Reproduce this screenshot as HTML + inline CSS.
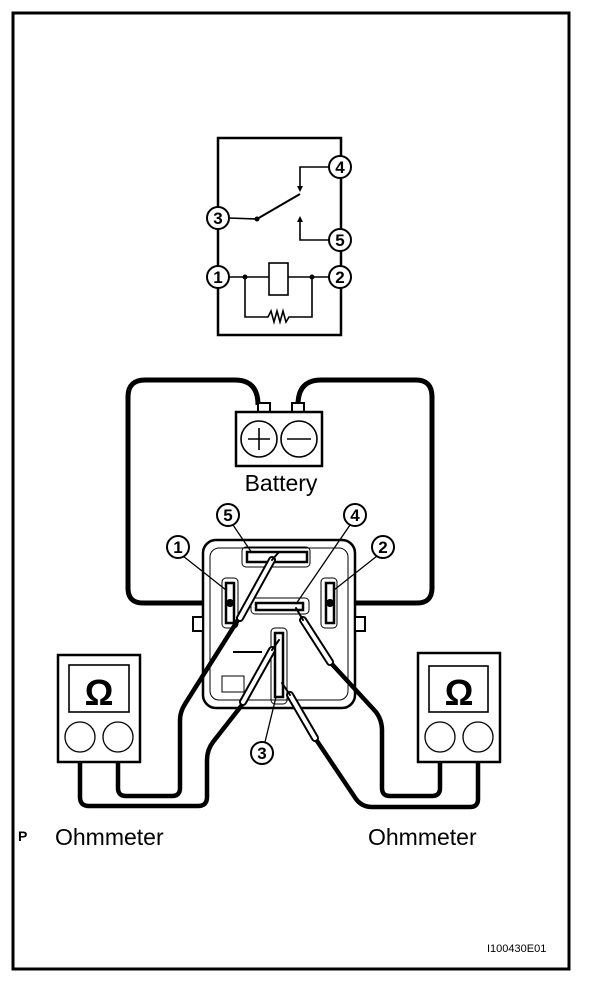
<!DOCTYPE html>
<html><head><meta charset="utf-8"><style>
html,body{margin:0;padding:0;background:#fff}
svg{display:block}
text{font-family:"Liberation Sans",Arial,sans-serif;fill:#000}
</style></head><body>
<svg width="608" height="986" viewBox="0 0 608 986" xmlns="http://www.w3.org/2000/svg">
<rect x="13" y="13" width="556" height="956" fill="none" stroke="#000" stroke-width="3"/>

<!-- schematic -->
<g stroke="#000" fill="none" stroke-width="2.5">
<rect x="218" y="138" width="123" height="197"/>
</g>
<g stroke="#000" fill="none" stroke-width="1.6">
<line x1="228" y1="218" x2="257" y2="219"/>
<line x1="257" y1="219" x2="300" y2="194" stroke-width="2"/>
<polyline points="330,167 300,167 300,188"/>
<polyline points="330,240 300,240 300,218"/>
<line x1="228" y1="277" x2="269" y2="277"/>
<line x1="288" y1="277" x2="330" y2="277"/>
<rect x="269" y="263" width="19" height="32"/>
<polyline points="245,277 245,317 268,317 271,311 274,322 277,311 280,322 283,311 286,322 289,317 312,317 312,277"/>
</g>
<polygon points="297,186 303,186 300,192" fill="#000"/>
<polygon points="297,222 303,222 300,216" fill="#000"/>
<circle cx="257" cy="219" r="2.5" fill="#000"/>
<circle cx="245" cy="277" r="2.5" fill="#000"/>
<circle cx="312" cy="277" r="2.5" fill="#000"/>
<g fill="#fff" stroke="#000" stroke-width="2">
<circle cx="218" cy="218" r="11"/><circle cx="218" cy="277" r="11"/>
<circle cx="340" cy="167" r="11"/><circle cx="340" cy="240" r="11"/><circle cx="340" cy="277" r="11"/>
</g>
<g font-size="17" font-weight="bold" text-anchor="middle">
<text x="218" y="224">3</text><text x="218" y="283">1</text>
<text x="340" y="173">4</text><text x="340" y="246">5</text><text x="340" y="283">2</text>
</g>

<!-- battery cables -->
<g stroke="#000" fill="none" stroke-width="5" stroke-linejoin="round">
<path d="M258,405 Q258,380 235,380 L145,380 Q128,380 128,397 L128,588 Q128,603 143,603 L230,603"/>
<path d="M298,405 Q298,380 321,380 L416,380 Q432,380 432,397 L432,588 Q432,603 417,603 L330,603"/>
</g>
<!-- battery -->
<rect x="258" y="403" width="12" height="10" fill="#fff" stroke="#000" stroke-width="2"/>
<rect x="292" y="403" width="12" height="10" fill="#fff" stroke="#000" stroke-width="2"/>
<rect x="236" y="412" width="86" height="54" fill="#fff" stroke="#000" stroke-width="2.5"/>
<circle cx="259" cy="439" r="18" fill="none" stroke="#000" stroke-width="1.6"/>
<circle cx="299" cy="439" r="18" fill="none" stroke="#000" stroke-width="1.6"/>
<g stroke="#000" stroke-width="1.6"><line x1="248" y1="439" x2="270" y2="439"/><line x1="259" y1="428" x2="259" y2="450"/><line x1="287" y1="439" x2="311" y2="439"/></g>
<text x="281" y="491" font-size="23" text-anchor="middle">Battery</text>

<!-- relay -->
<rect x="203" y="540" width="152" height="168" rx="13" fill="#fff" stroke="#000" stroke-width="2.5"/>
<rect x="210" y="548" width="138" height="152" rx="9" fill="none" stroke="#000" stroke-width="1"/>
<rect x="193" y="617" width="10" height="14" fill="#fff" stroke="#000" stroke-width="2"/>
<rect x="355" y="617" width="10" height="14" fill="#fff" stroke="#000" stroke-width="2"/>
<g fill="none" stroke="#000" stroke-width="1">
<rect x="242" y="547" width="68" height="20" rx="4"/>
<rect x="222" y="578" width="16" height="50" rx="4"/>
<rect x="321" y="578" width="16" height="50" rx="4"/>
<rect x="251" y="598" width="58" height="16" rx="4"/>
<rect x="271" y="628" width="16" height="76" rx="4"/>
<rect x="222" y="676" width="22" height="16"/>
<line x1="233" y1="652" x2="262" y2="652" stroke-width="2"/>
</g>
<g fill="#fff" stroke="#000" stroke-width="2.5">
<rect x="247" y="552" width="60" height="10"/>
<rect x="226" y="583" width="8" height="40"/>
<rect x="326" y="583" width="8" height="40"/>
<rect x="256" y="603" width="47" height="7"/>
<rect x="275" y="633" width="8" height="64"/>
</g>
<circle cx="230" cy="603" r="4" fill="#000"/><circle cx="330" cy="603" r="4" fill="#000"/>

<!-- leaders -->
<g stroke="#000" stroke-width="1.3" fill="none">
<line x1="233" y1="525" x2="252" y2="553"/>
<line x1="350" y1="525" x2="296" y2="604"/>
<line x1="183" y1="556" x2="226" y2="590"/>
<line x1="377" y1="556" x2="334" y2="590"/>
<line x1="265" y1="742" x2="276" y2="697"/>
</g>
<g fill="#fff" stroke="#000" stroke-width="2">
<circle cx="228" cy="515" r="11"/><circle cx="355" cy="515" r="11"/>
<circle cx="178" cy="547" r="11"/><circle cx="383" cy="547" r="11"/>
<circle cx="262" cy="753" r="11"/>
</g>
<g font-size="17" font-weight="bold" text-anchor="middle">
<text x="228" y="521">5</text><text x="355" y="521">4</text>
<text x="178" y="553">1</text><text x="383" y="553">2</text><text x="262" y="759">3</text>
</g>

<!-- cables to meters -->
<g stroke="#000" fill="none" stroke-width="4.5" stroke-linejoin="round">
<path d="M80,762 L80,797 Q80,806 89,806 L198,806 Q207,806 207,797 L207,760 Q207,750 213,742 L242,705"/>
<path d="M118,762 L118,788 Q118,796 126,796 L172,796 Q180,796 180,788 L180,720 Q180,712 185,704 L238,620"/>
<path d="M440,762 L440,788 Q440,796 432,796 L390,796 Q382,796 382,788 L382,730 Q382,720 376,712 L330,662"/>
<path d="M478,762 L478,799 Q478,807 470,807 L372,807 Q362,807 356,799 L315,738"/>
</g>
<!-- probes -->
<g stroke-linecap="round">
<line x1="240" y1="618" x2="272" y2="560" stroke="#000" stroke-width="8"/>
<line x1="240" y1="618" x2="272" y2="560" stroke="#fff" stroke-width="4"/>
<line x1="272" y1="560" x2="279" y2="552" stroke="#000" stroke-width="2"/>
<line x1="243" y1="702" x2="272" y2="650" stroke="#000" stroke-width="8"/>
<line x1="243" y1="702" x2="272" y2="650" stroke="#fff" stroke-width="4"/>
<line x1="272" y1="650" x2="279" y2="640" stroke="#000" stroke-width="2"/>
<line x1="330" y1="662" x2="303" y2="620" stroke="#000" stroke-width="8"/>
<line x1="330" y1="662" x2="303" y2="620" stroke="#fff" stroke-width="4"/>
<line x1="303" y1="620" x2="296" y2="608" stroke="#000" stroke-width="2"/>
<line x1="315" y1="738" x2="290" y2="695" stroke="#000" stroke-width="8"/>
<line x1="315" y1="738" x2="290" y2="695" stroke="#fff" stroke-width="4"/>
<line x1="290" y1="695" x2="282" y2="683" stroke="#000" stroke-width="2"/>
</g>

<!-- meters -->
<g>
<rect x="58" y="655" width="82" height="107" fill="#fff" stroke="#000" stroke-width="2.5"/>
<rect x="69" y="665" width="60" height="47" fill="#fff" stroke="#000" stroke-width="1.6"/>
<circle cx="80" cy="737" r="15" fill="#fff" stroke="#000" stroke-width="1.3"/>
<circle cx="118" cy="737" r="15" fill="#fff" stroke="#000" stroke-width="1.3"/>
<text x="99" y="705" font-size="36" font-weight="bold" text-anchor="middle">Ω</text>
<rect x="418" y="653" width="82" height="109" fill="#fff" stroke="#000" stroke-width="2.5"/>
<rect x="429" y="666" width="59" height="46" fill="#fff" stroke="#000" stroke-width="1.6"/>
<circle cx="440" cy="737" r="15" fill="#fff" stroke="#000" stroke-width="1.3"/>
<circle cx="478" cy="737" r="15" fill="#fff" stroke="#000" stroke-width="1.3"/>
<text x="459" y="705" font-size="36" font-weight="bold" text-anchor="middle">Ω</text>
</g>

<text x="18" y="841" font-size="14" font-weight="bold">P</text>
<text x="55" y="845" font-size="23">Ohmmeter</text>
<text x="368" y="845" font-size="23">Ohmmeter</text>
<text x="487" y="952" font-size="11">I100430E01</text>
</svg>
</body></html>
